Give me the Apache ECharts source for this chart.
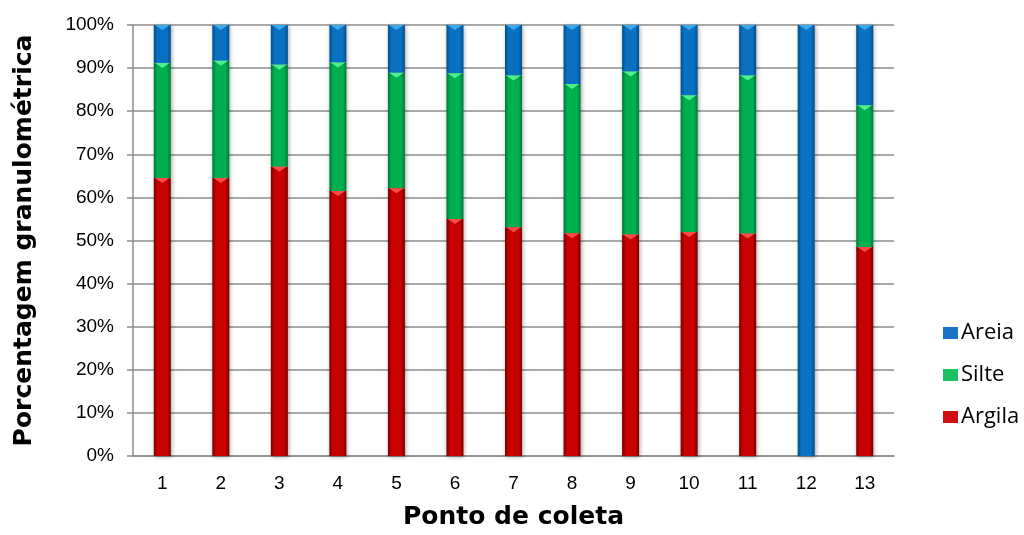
<!DOCTYPE html>
<html>
<head>
<meta charset="utf-8">
<script src="https://cdn.jsdelivr.net/npm/echarts@6/dist/echarts.min.js"></script>
<style>
  html, body { margin: 0; padding: 0; background: #fff; }
  #chart { width: 1024px; height: 535px; }
</style>
</head>
<body>
<div id="chart"></div>
<script>
// Sampling points
const categories = ['1', '2', '3', '4', '5', '6', '7', '8', '9', '10', '11', '12', '13'];
// Grain size fractions (%)
const argila = [64.5, 64.5, 67.1, 61.5, 62.1, 55.0, 53.1, 51.7, 51.4, 52.0, 51.6, 0, 48.5];
const silte  = [26.7, 27.2, 23.7, 29.8, 26.8, 33.8, 35.2, 34.6, 37.8, 31.7, 36.7, 0, 32.9];
const areia  = [8.8, 8.3, 9.2, 8.7, 11.1, 11.2, 11.7, 13.7, 10.8, 16.3, 11.7, 100, 18.6];
const yTicks = [0, 10, 20, 30, 40, 50, 60, 70, 80, 90, 100];

const BAR_W = 17;

function barFill(edge, mid) {
  return new echarts.graphic.LinearGradient(0, 0, 1, 0, [
    { offset: 0, color: edge },
    { offset: 0.22, color: mid },
    { offset: 0.78, color: mid },
    { offset: 1, color: edge }
  ]);
}

function barSeries(name, data, edge, mid) {
  return {
    name: name,
    type: 'bar',
    stack: 'total',
    barWidth: BAR_W,
    data: data,
    itemStyle: {
      color: barFill(edge, mid),
      shadowColor: 'rgba(0,0,0,0.35)',
      shadowBlur: 4,
      shadowOffsetX: 1,
      shadowOffsetY: 1
    },
    emphasis: { disabled: true }
  };
}

// Bevel highlight: a light wedge just inside the top of each stacked segment
function bevelSeries(id, segments, below, color) {
  const tops = segments.map(function (v, i) {
    return v > 0 ? (below[i] + v) : '-';
  });
  return {
    id: id,
    type: 'pictorialBar',
    data: tops,
    symbol: 'path://M0,0 L20,0 L10,6 Z',
    symbolSize: [BAR_W - 2, 5],
    symbolPosition: 'end',
    symbolOffset: [0, 0],
    barGap: '-100%',
    z: 5,
    silent: true,
    itemStyle: { color: color },
    tooltip: { show: false }
  };
}

const zeros = categories.map(function () { return 0; });
const argilaTop = argila.map(function (v) { return v; });
const silteTop = argila.map(function (v, i) { return v + silte[i]; });

const chart = echarts.init(document.getElementById('chart'));
chart.setOption({
  animation: false,
  grid: { left: 133, right: 130, top: 25, bottom: 75 },
  legend: {
    orient: 'vertical',
    left: 938,
    top: 317,
    itemWidth: 15,
    itemHeight: 12,
    itemGap: 20,
    icon: 'rect',
    data: [
      { name: 'Areia', itemStyle: { color: '#1a73c4' } },
      { name: 'Silte', itemStyle: { color: '#1bc061' } },
      { name: 'Argila', itemStyle: { color: '#d01010' } }
    ],
    textStyle: { fontFamily: 'Open Sans', fontSize: 22, color: '#000', padding: [0, 0, 0, -2] }
  },
  xAxis: {
    type: 'category',
    data: categories,
    name: 'Ponto de coleta',
    nameLocation: 'middle',
    nameGap: 49,
    nameTextStyle: { fontFamily: 'DejaVu Sans', fontWeight: 'bold', fontSize: 25, color: '#000' },
    axisLine: { lineStyle: { color: '#8c8c8c', width: 1.5 } },
    axisTick: { show: false },
    axisLabel: { fontFamily: 'Liberation Sans', fontSize: 19, color: '#000', margin: 18 }
  },
  yAxis: {
    type: 'value',
    min: 0,
    max: 100,
    interval: 10,
    name: 'Porcentagem granulométrica',
    nameLocation: 'middle',
    nameGap: 96,
    nameTextStyle: { fontFamily: 'DejaVu Sans', fontWeight: 'bold', fontSize: 25, color: '#000' },
    axisLine: { show: true, lineStyle: { color: '#8c8c8c', width: 1.5 } },
    axisTick: { show: true, length: 6, lineStyle: { color: '#8c8c8c', width: 1.5 } },
    splitLine: { lineStyle: { color: '#8c8c8c', width: 1.5 } },
    axisLabel: {
      fontFamily: 'Liberation Sans', fontSize: 19, color: '#000', margin: 19,
      formatter: function (v) { return yTicks.indexOf(v) >= 0 ? v + '%' : ''; }
    }
  },
  series: [
    barSeries('Argila', argila, '#7a0000', '#c80000'),
    barSeries('Silte', silte, '#007a37', '#00b050'),
    barSeries('Areia', areia, '#004f8c', '#0a70c2'),
    bevelSeries('bevelArgila', argila, zeros, '#ff4a4a'),
    bevelSeries('bevelSilte', silte, argilaTop, '#4ef08c'),
    bevelSeries('bevelAreia', areia, silteTop, '#3aaaf0')
  ]
});
</script>
</body>
</html>
